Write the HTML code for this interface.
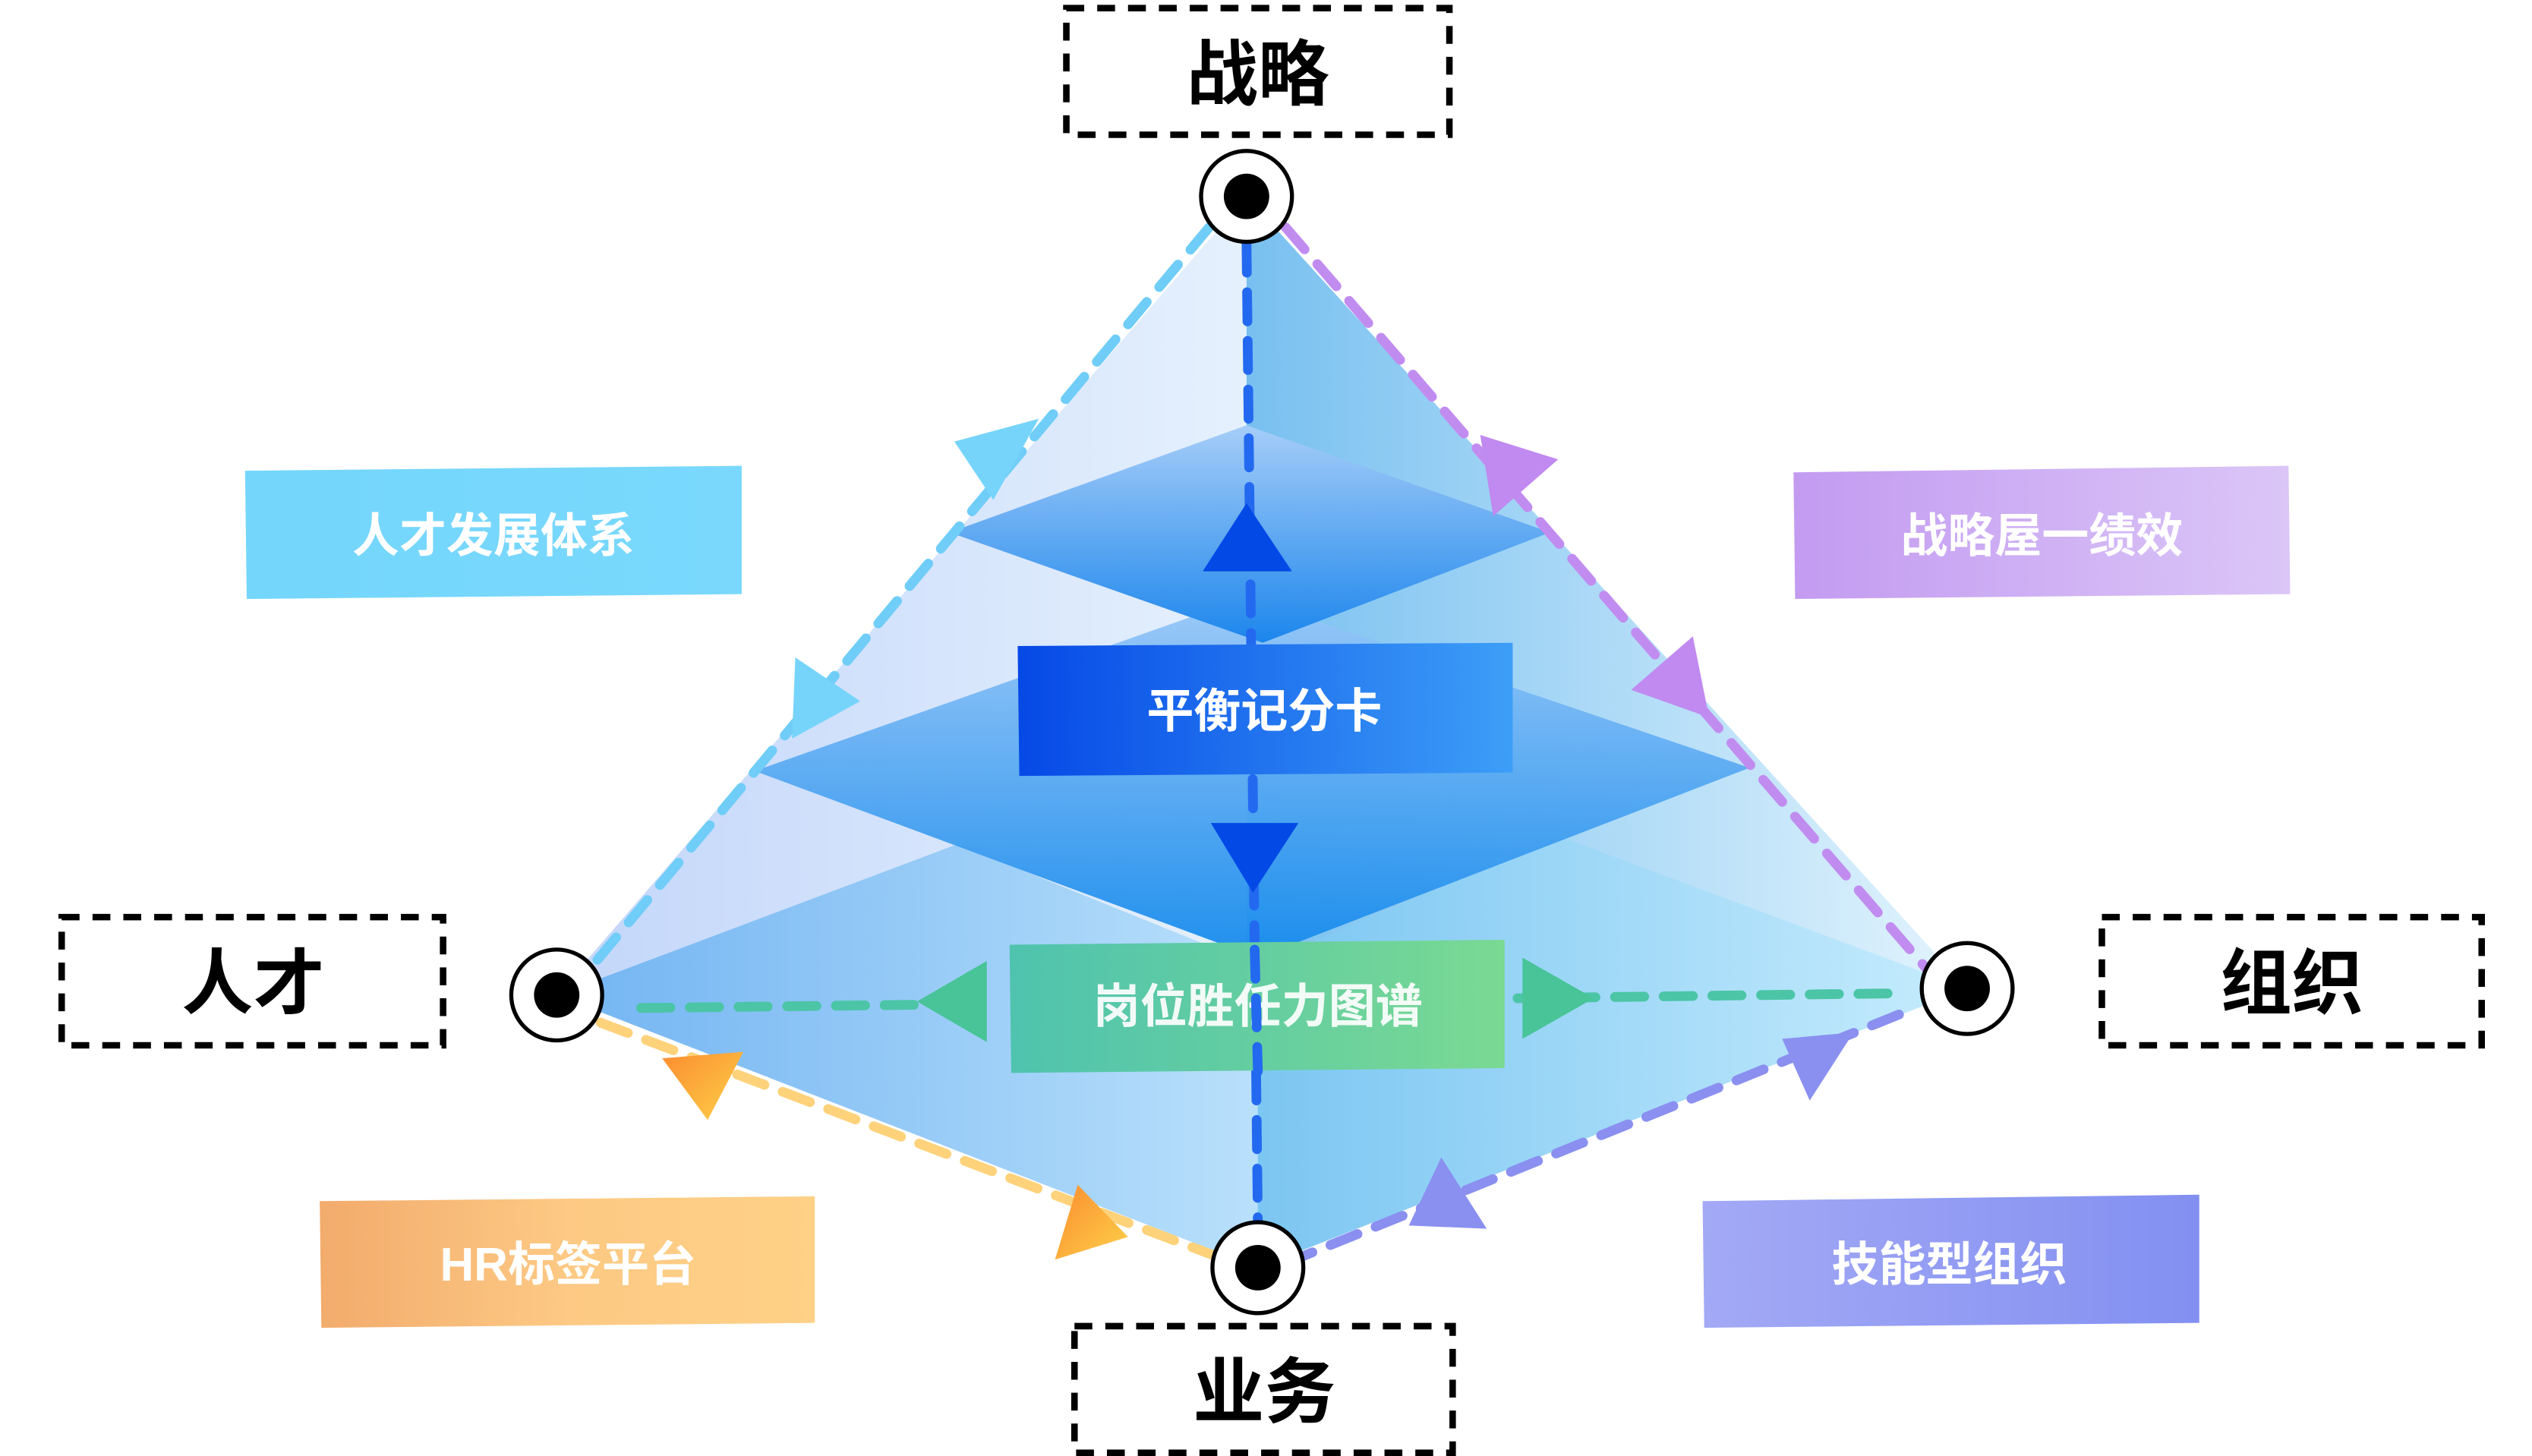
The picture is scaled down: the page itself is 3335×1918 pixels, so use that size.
<!DOCTYPE html>
<html><head><meta charset="utf-8"><style>
html,body{margin:0;padding:0;background:#fff;}
svg{display:block;}
text{font-family:"Liberation Sans","Noto Sans CJK SC",sans-serif;font-weight:bold;}
</style></head><body>
<svg width="3335" height="1918" viewBox="0 0 1560 897" preserveAspectRatio="none" xmlns="http://www.w3.org/2000/svg">
<defs>
<linearGradient id="gl" x1="0" y1="0" x2="1" y2="0"><stop offset="0" stop-color="#c3d6fa"/><stop offset="1" stop-color="#e6f1fd"/></linearGradient>
<linearGradient id="gr" x1="0" y1="0" x2="1" y2="0"><stop offset="0" stop-color="#78c0f0"/><stop offset="1" stop-color="#e3f4fd"/></linearGradient>
<linearGradient id="gbl" x1="0" y1="0" x2="1" y2="0"><stop offset="0" stop-color="#72b4f2"/><stop offset="1" stop-color="#b9e0fb"/></linearGradient>
<linearGradient id="gbr" x1="0" y1="0" x2="1" y2="0"><stop offset="0" stop-color="#7cc6f2"/><stop offset="1" stop-color="#c6ecfd"/></linearGradient>
<linearGradient id="gd" x1="0" y1="0" x2="0" y2="1"><stop offset="0" stop-color="#a6cdf8"/><stop offset="1" stop-color="#1c86ec"/></linearGradient>
<linearGradient id="gd2" x1="0" y1="0" x2="0" y2="1"><stop offset="0" stop-color="#9ac8f8"/><stop offset="1" stop-color="#158aec"/></linearGradient>
<linearGradient id="b1" x1="0" y1="0" x2="1" y2="0"><stop offset="0" stop-color="#74d6fb"/><stop offset="1" stop-color="#7ad8fd"/></linearGradient>
<linearGradient id="b2" x1="0" y1="0" x2="1" y2="0"><stop offset="0" stop-color="#c39bf1"/><stop offset="1" stop-color="#dbc6f7"/></linearGradient>
<linearGradient id="b3" x1="0" y1="0" x2="1" y2="0"><stop offset="0" stop-color="#f2ab6c"/><stop offset="0.5" stop-color="#fdc984"/><stop offset="1" stop-color="#fed187"/></linearGradient>
<linearGradient id="b4" x1="0" y1="0" x2="1" y2="0"><stop offset="0" stop-color="#a3a9f5"/><stop offset="1" stop-color="#8390f1"/></linearGradient>
<linearGradient id="b5" x1="0" y1="0" x2="1" y2="0"><stop offset="0" stop-color="#0649e6"/><stop offset="1" stop-color="#3d9ef7"/></linearGradient>
<linearGradient id="b6" x1="0" y1="0" x2="1" y2="0"><stop offset="0" stop-color="#4fc3ae"/><stop offset="1" stop-color="#7ad993"/></linearGradient>
<linearGradient id="or" x1="0" y1="0" x2="1" y2="1"><stop offset="0" stop-color="#fb8d2f"/><stop offset="1" stop-color="#fed04a"/></linearGradient>
</defs>
<polygon points="768,121 343,613 775,781 768,600" fill="url(#gl)"/>
<polygon points="768,121 1212,609 775,781 768,600" fill="url(#gr)"/>
<polygon points="343,613 590,520 775,595 775,781" fill="url(#gbl)"/>
<polygon points="775,595 960,515 1212,609 775,781" fill="url(#gbr)"/>
<polygon points="465,475 768,368 1078,473 775,590" fill="url(#gd2)" opacity="0.95"/>
<polygon points="585,328 768,262 955,328 778,396" fill="url(#gd)"/>
<g fill="none" stroke-width="6" stroke-linecap="round" stroke-dasharray="18 12">
<line x1="745" y1="140" x2="365" y2="595" stroke="#6fcdf8"/>
<line x1="792" y1="140" x2="1188" y2="598" stroke="#c18cf0"/>
<line x1="1170" y1="625" x2="800" y2="775" stroke="#8a8ff0"/>
<line x1="370" y1="630" x2="752" y2="775" stroke="#fdd27a"/>
<line x1="768" y1="150" x2="775" y2="755" stroke="#2369f0"/>
<line x1="395" y1="621" x2="565" y2="619" stroke="#4bc5a6"/>
<line x1="935" y1="615" x2="1165" y2="612" stroke="#4bc5a6"/>
</g>
<polygon points="588,272 640,258 612,308" fill="#76d4fb"/>
<polygon points="490,405 530,432 488,455" fill="#76d4fb"/>
<polygon points="912,268 960,283 920,318" fill="#c08af0"/>
<polygon points="1005,425 1043,392 1053,442" fill="#c08af0"/>
<polygon points="768,310 796,352 741,352" fill="#0249e6"/>
<polygon points="746,507 800,507 772,550" fill="#0249e6"/>
<polygon points="565,617 608,592 608,642" fill="#48c498"/>
<polygon points="938,590 982,615 938,640" fill="#48c498"/>
<polygon points="408,652 458,648 436,690" fill="url(#or)"/>
<polygon points="664,730 695,762 650,776" fill="url(#or)"/>
<polygon points="1098,640 1142,636 1115,678" fill="#8a90f0"/>
<polygon points="868,755 888,713 916,757" fill="#8a90f0"/>
<polygon points="151,290 457,287 457,366 152,369" fill="url(#b1)"/>
<text x="304" y="340" font-size="29" fill="#fff" text-anchor="middle">人才发展体系</text>
<polygon points="1105,291 1410,287 1411,366 1106,369" fill="url(#b2)"/>
<text x="1258" y="340" font-size="29" fill="#fff" text-anchor="middle">战略屋一绩效</text>
<polygon points="197,740 502,737 502,815 198,818" fill="url(#b3)"/>
<text x="350" y="789" font-size="29" fill="#fff" text-anchor="middle">HR标签平台</text>
<polygon points="1049,740 1355,736 1355,815 1050,818" fill="url(#b4)"/>
<text x="1201" y="789" font-size="29" fill="#fff" text-anchor="middle">技能型组织</text>
<polygon points="627,398 932,396 932,476 628,478" fill="url(#b5)"/>
<text x="779" y="448" font-size="29" fill="#fff" text-anchor="middle">平衡记分卡</text>
<polygon points="622,582 927,579 927,658 623,661" fill="url(#b6)"/>
<text x="775" y="630" font-size="29" fill="#fff" text-anchor="middle" opacity="0.92">岗位胜任力图谱</text>
<line x1="773" y1="585" x2="775" y2="660" stroke="#2369f0" stroke-width="6" stroke-dasharray="18 12" stroke-linecap="round"/>
<g stroke="#000" stroke-width="2.5" fill="#fff">
<circle cx="768" cy="121" r="28"/><circle cx="343" cy="613" r="28"/><circle cx="1212" cy="609" r="28"/><circle cx="775" cy="781" r="28"/>
</g>
<g fill="#000"><circle cx="768" cy="121" r="14"/><circle cx="343" cy="613" r="14"/><circle cx="1212" cy="609" r="14"/><circle cx="775" cy="781" r="14"/></g>
<g fill="none" stroke="#000" stroke-width="4" stroke-dasharray="11 8">
<rect x="657" y="5" width="236" height="78"/>
<rect x="38" y="565" width="235" height="79"/>
<rect x="1295" y="565" width="234" height="79"/>
<rect x="662" y="817" width="233" height="78"/>
</g>
<g font-size="44" fill="#000" text-anchor="middle">
<text x="775" y="61">战略</text>
<text x="156" y="621">人才</text>
<text x="1412" y="621">组织</text>
<text x="779" y="873">业务</text>
</g>
</svg>
</body></html>
